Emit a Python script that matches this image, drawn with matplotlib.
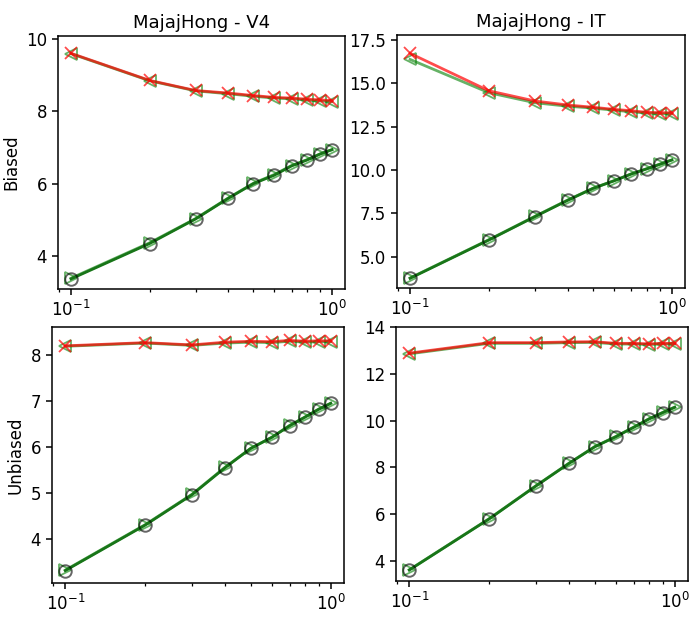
import matplotlib
matplotlib.use('Agg')
import matplotlib.pyplot as plt
import numpy as np

fracs = [0.1, 0.2, 0.3, 0.4, 0.5, 0.6, 0.7, 0.8, 0.9, 1.0]
regions = ['V4', 'IT']
rows = ['Biased', 'Unbiased']

# upper pair: red x / green <, lower pair: green > / black o
v4_biased_x = [9.61, 8.86, 8.58, 8.51, 8.44, 8.39, 8.37, 8.34, 8.32, 8.30]
v4_biased_lt = [9.60, 8.85, 8.57, 8.49, 8.42, 8.37, 8.35, 8.31, 8.29, 8.27]
v4_biased_gt = [3.38, 4.36, 5.03, 5.60, 6.01, 6.25, 6.50, 6.66, 6.82, 6.94]
v4_biased_o = [3.36, 4.34, 5.02, 5.59, 6.00, 6.23, 6.49, 6.65, 6.82, 6.94]

it_biased_x = [16.73, 14.57, 13.98, 13.75, 13.62, 13.50, 13.42, 13.33, 13.31, 13.30]
it_biased_lt = [16.38, 14.46, 13.88, 13.68, 13.57, 13.45, 13.36, 13.28, 13.25, 13.24]
it_biased_gt = [3.77, 5.98, 7.33, 8.27, 8.95, 9.38, 9.78, 10.07, 10.34, 10.58]
it_biased_o = [3.75, 5.96, 7.31, 8.25, 8.94, 9.37, 9.77, 10.06, 10.33, 10.58]

v4_unbiased_x = [8.20, 8.27, 8.22, 8.28, 8.30, 8.29, 8.32, 8.30, 8.31, 8.31]
v4_unbiased_lt = [8.19, 8.26, 8.21, 8.26, 8.28, 8.27, 8.30, 8.28, 8.29, 8.29]
v4_unbiased_gt = [3.32, 4.31, 4.97, 5.56, 5.97, 6.21, 6.47, 6.65, 6.82, 6.95]
v4_unbiased_o = [3.31, 4.30, 4.96, 5.55, 5.97, 6.21, 6.46, 6.65, 6.82, 6.95]

it_unbiased_x = [12.89, 13.34, 13.34, 13.37, 13.38, 13.31, 13.31, 13.29, 13.31, 13.31]
it_unbiased_lt = [12.86, 13.31, 13.31, 13.34, 13.35, 13.28, 13.28, 13.26, 13.28, 13.28]
it_unbiased_gt = [3.61, 5.80, 7.21, 8.18, 8.89, 9.32, 9.72, 10.08, 10.35, 10.58]
it_unbiased_o = [3.60, 5.79, 7.20, 8.17, 8.88, 9.31, 9.71, 10.07, 10.34, 10.57]

panels = [
    [(v4_biased_x, v4_biased_lt, v4_biased_gt, v4_biased_o),
     (it_biased_x, it_biased_lt, it_biased_gt, it_biased_o)],
    [(v4_unbiased_x, v4_unbiased_lt, v4_unbiased_gt, v4_unbiased_o),
     (it_unbiased_x, it_unbiased_lt, it_unbiased_gt, it_unbiased_o)],
]
ylims = [[(3.08, 10.09), (3.19, 17.79)],
         [(3.04, 8.61), (3.13, 14.01)]]

W, H = 698, 618
boxes = [[(58, 36, 345, 289), (397, 35, 685, 288)],
         [(52, 327, 344, 583), (396, 327, 688, 581)]]

fig = plt.figure(figsize=(W / 100, H / 100), dpi=100)
for i in range(2):
    for j in range(2):
        l, t, r, b = boxes[i][j]
        ax = fig.add_axes([l / W, 1 - b / H, (r - l) / W, (b - t) / H])
        ys_x, ys_lt, ys_gt, ys_o = panels[i][j]
        ax.plot(fracs, ys_lt, '-<', color='g', alpha=0.6, lw=2, ms=9, mfc='none', mew=1.3)
        ax.plot(fracs, ys_x, '-x', color='r', alpha=0.7, lw=2, ms=9, mew=1.3)
        ax.plot(fracs, ys_gt, '->', color='g', alpha=0.6, lw=2, ms=9, mfc='none', mew=1.3)
        ax.plot(fracs, ys_o, '-o', color='#187518', lw=2, ms=9, mfc='none',
                mec=(0, 0, 0, 0.6), mew=1.4)
        ax.set_xscale('log')
        ax.set_ylim(*ylims[i][j])
        ax.tick_params(which='major', labelsize=12, length=4.5, width=1.1)
        ax.tick_params(which='minor', length=2.5, width=0.9)
        for s in ax.spines.values():
            s.set_linewidth(1.1)
        if i == 0:
            ax.set_title('MajajHong - ' + regions[j], fontsize=13)
        if j == 0:
            ax.set_ylabel(rows[i], fontsize=12)

fig.savefig('out.png', dpi=100)
